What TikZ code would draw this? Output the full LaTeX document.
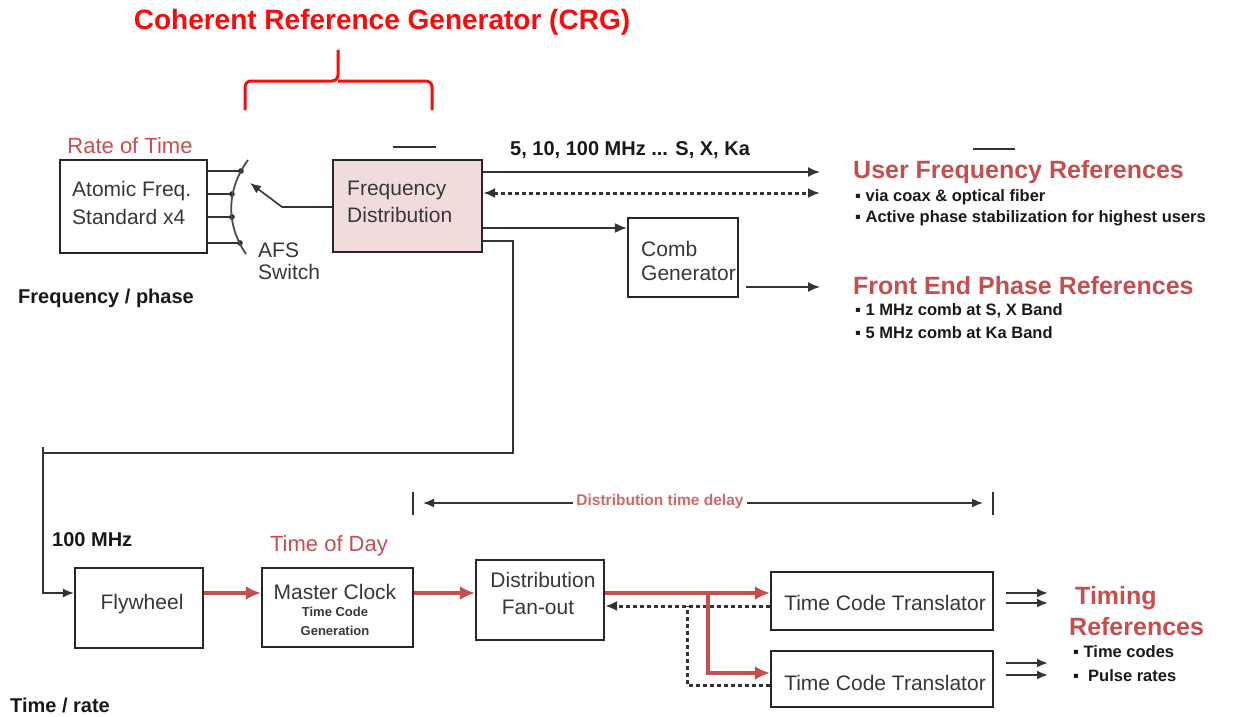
\documentclass[tikz,border=0pt]{standalone}
\usepackage{fontspec}
\setmainfont{Liberation Sans}
\usetikzlibrary{arrows.meta,calc}
\definecolor{crgred}{RGB}{250,10,10}
\definecolor{lblred}{RGB}{198,78,78}
\definecolor{fdpink}{RGB}{242,220,219}
\definecolor{txtgray}{RGB}{55,55,55}
\begin{document}
\begin{tikzpicture}[x=1pt,y=-1pt,
  box/.style={draw=black!85, line width=2.2pt, inner sep=0pt},
  conn/.style={draw=black!80, line width=1.8pt},
  arr/.style={conn, -{Latex[length=12pt,width=10pt]}},
  thinarr/.style={draw=black!80, line width=1.6pt, -{Latex[length=11pt,width=9pt]}},
  redarr/.style={draw=lblred, line width=4pt, -{Latex[length=15pt,width=14pt]}},
  dotarr/.style={draw=black!80, line width=3pt, dash pattern=on 4pt off 3pt},
  boxtxt/.style={font=\fontsize{21}{23}\selectfont, text=txtgray, inner sep=0pt},
  lbl/.style={font=\fontsize{20}{22}\selectfont\bfseries, text=black!90, inner sep=0pt},
  bul/.style={font=\fontsize{16.5}{18}\selectfont\bfseries, text=black!90, inner sep=0pt},
  redhead/.style={font=\fontsize{25}{27}\selectfont\bfseries, text=lblred, inner sep=0pt},
  redlbl/.style={font=\fontsize{22}{24}\selectfont, text=lblred, inner sep=0pt}
]
\useasboundingbox (0,0) rectangle (1234,717);

% title and brace
\node[font=\fontsize{28}{30}\selectfont\bfseries, text=crgred, inner sep=0pt] (title) at (382,22) {Coherent Reference Generator (CRG)};
\coordinate (btip) at (338,50);
\draw[crgred, line width=3pt, rounded corners=6pt] (245,110) -- (245,81) -- (338,81) -- (btip);
\draw[crgred, line width=3pt, rounded corners=6pt] (432,110) -- (432,81) -- (338,81);

% atomic frequency standard
\node[redlbl] (rot) at (130,146) {Rate of Time};
\node[box, minimum width=147pt, minimum height=93pt] (afs) at (133.5,206.5) {};
\node[boxtxt, anchor=west] (afs1) at (72,191) {Atomic Freq.};
\node[boxtxt, anchor=west] (afs2) at (72,217) {Standard x4};

% switch
\coordinate (s1) at (241,171);
\coordinate (s2) at (232,194);
\coordinate (s3) at (232,217);
\coordinate (s4) at (240,243);
\foreach \s in {s1,s2,s3,s4} {
  \draw[conn] (afs.east |- \s) -- (\s);
  \fill[black!85] (\s) circle (2.8pt);
}
\draw[draw=black!70, line width=1.8pt] (248,160) .. controls (226,190) and (226,225) .. (246,254);
\node[boxtxt, anchor=west] (sw1) at (258,250) {AFS};
\node[boxtxt, anchor=west] (sw2) at (258,272) {Switch};
\node[lbl, anchor=west] (fp) at (18,298) {Frequency / phase};

% frequency distribution
\node[box, fill=fdpink, minimum width=149pt, minimum height=92pt] (fd) at (407.5,206) {};
\node[boxtxt, anchor=west] (fd1) at (347,190) {Frequency};
\node[boxtxt, anchor=west] (fd2) at (347,215) {Distribution};
\coordinate (swp) at (282,207);
\draw[thinarr] (fd.west |- swp) -- (swp) -- (250,183);
\draw[conn] (393,147) -- (436,147);
\draw[conn] (973,149) -- (1015,149);

\node[lbl, anchor=west] (mhz) at (510,150) {5, 10, 100 MHz ... S, X, Ka};
\coordinate (u1) at (820,172);
\coordinate (u2) at (820,193);
\coordinate (fe) at (820,287);
\draw[arr] (fd.east |- u1) -- (u1);
\draw[dotarr, {Latex[length=12pt,width=10pt]}-{Latex[length=12pt,width=10pt]}] (fd.east |- u2) -- (u2);

% comb generator
\node[box, minimum width=110pt, minimum height=79pt] (comb) at (683,257.5) {};
\node[boxtxt, anchor=west] (cb1) at (641,249) {Comb};
\node[boxtxt, anchor=west] (cb2) at (641,273) {Generator};
\coordinate (c228) at (600,228);
\draw[arr] (fd.east |- c228) -- (comb.west |- c228);
\draw[arr] ($(comb.east |- fe)+(7,0)$) -- (fe);

% user references
\node[redhead, anchor=west] (ufr) at (853,172) {User Frequency References};
\node[bul, anchor=west] (ufr1) at (855,197) {▪ via coax \& optical fiber};
\node[bul, anchor=west] (ufr2) at (855,218) {▪ Active phase stabilization for highest users};
\node[redhead, anchor=west] (fer) at (853,286) {Front End Phase References};
\node[bul, anchor=west] (fer1) at (855,311) {▪ 1 MHz comb at S, X Band};
\node[bul, anchor=west] (fer2) at (855,333) {▪ 5 MHz comb at Ka Band};

% timing branch
\coordinate (tp1) at (600,241);
\coordinate (tp2) at (513,453);
\coordinate (tp3) at (43,453);
\coordinate (rowA) at (0,593);
\coordinate (rowB) at (0,673);
\coordinate (rowC) at (0,606);
\coordinate (rowD) at (0,685);

\node[box, minimum width=128pt, minimum height=80pt] (fly) at (139,608) {};
\node[boxtxt] (flyt) at (142,604) {Flywheel};
\draw[conn] (fd.east |- tp1) -| (tp2) -- (tp3);
\draw[thinarr] ($(tp3)+(0,-6)$) |- (fly.west |- rowA);
\node[lbl, anchor=west] (mhz100) at (52,540) {100 MHz};

\node[redlbl] (tod) at (329,546) {Time of Day};
\node[box, minimum width=151pt, minimum height=79pt] (mc) at (337.5,607.5) {};
\node[font=\fontsize{21}{23}\selectfont, text=txtgray, inner sep=0pt] (mc1) at (335,592) {Master Clock};
\node[font=\fontsize{13}{15}\selectfont\bfseries, text=txtgray, inner sep=0pt] (mc2) at (335,612) {Time Code};
\node[font=\fontsize{13}{15}\selectfont\bfseries, text=txtgray, inner sep=0pt] (mc3) at (335,631) {Generation};
\draw[redarr] (fly.east |- rowA) -- (mc.west |- rowA);

\node[box, minimum width=128pt, minimum height=80pt] (fan) at (540,600) {};
\node[boxtxt] (fan1) at (543,580) {Distribution};
\node[boxtxt] (fan2) at (538,607) {Fan-out};
\draw[redarr] (mc.east |- rowA) -- (fan.west |- rowA);

\node[box, minimum width=222pt, minimum height=58pt] (tct1) at (882,601) {};
\node[boxtxt] (tct1t) at (885,603) {Time Code Translator};
\node[box, minimum width=222pt, minimum height=56pt] (tct2) at (882,679) {};
\node[boxtxt] (tct2t) at (885,683) {Time Code Translator};

\coordinate (br) at (708,593);
\coordinate (dj) at (687,606);
\draw[dotarr, -{Latex[length=12pt,width=10pt]}] (tct1.west |- rowC) -- (fan.east |- rowC);
\draw[dotarr] (tct2.west |- rowD) -| (dj);
\draw[redarr] (fan.east |- rowA) -- (tct1.west |- rowA);
\draw[redarr] (br) |- (tct2.west |- rowB);

% output double arrows
\draw[thinarr, line width=2.8pt] ($(tct1.east |- 0,593)+(12,0)$) -- ++(42,0);
\draw[thinarr, line width=2.8pt] ($(tct1.east |- 0,603)+(12,0)$) -- ++(42,0);
\draw[thinarr, line width=2.8pt] ($(tct2.east |- 0,663)+(12,0)$) -- ++(42,0);
\draw[thinarr, line width=2.8pt] ($(tct2.east |- 0,675)+(12,0)$) -- ++(42,0);

\node[redhead, anchor=west] (tr1) at (1075,598) {Timing};
\node[redhead, anchor=west] (tr2) at (1069,627) {References};
\node[bul, anchor=west] (tr3) at (1073,652) {▪ Time codes};
\node[bul, anchor=west] (tr4) at (1073,676) {▪~ Pulse rates};

% distribution time delay
\coordinate (ltick) at (413,503);
\coordinate (rtick) at (993,503);
\draw[black!80, line width=2.5pt] ($(ltick)+(0,-11)$) -- ($(ltick)+(0,12)$);
\draw[black!80, line width=2.5pt] ($(rtick)+(0,-11)$) -- ($(rtick)+(0,12)$);
\node[font=\fontsize{15.5}{17}\selectfont\bfseries, text=lblred!85, inner sep=3pt, fill=white] (dtd) at (660,501) {Distribution time delay};
\draw[thinarr] (dtd.west |- ltick) -- ($(ltick)+(10,0)$);
\draw[thinarr] (dtd.east |- rtick) -- ($(rtick)+(-10,0)$);

\node[lbl, anchor=west] (trate) at (10,705) {Time / rate};
\end{tikzpicture}
\end{document}
